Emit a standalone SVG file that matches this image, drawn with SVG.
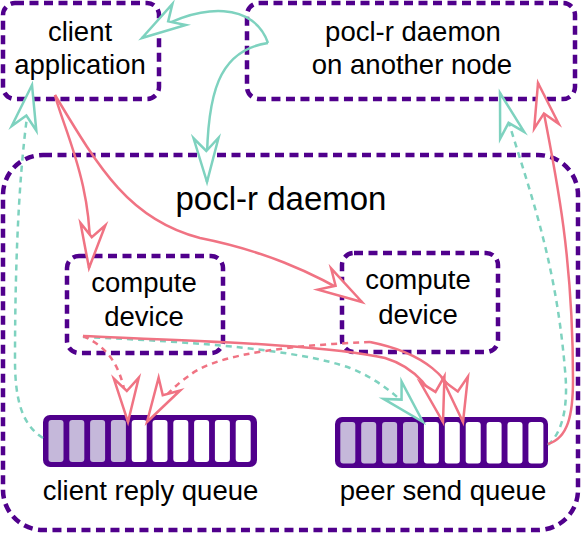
<svg xmlns="http://www.w3.org/2000/svg" width="582" height="533" viewBox="0 0 582 533">
<style>
.box{fill:none;stroke:#50008c;stroke-width:4.5;stroke-dasharray:9 5.5}
.lbl{font-family:"Liberation Sans",Arial,sans-serif;font-size:27.5px;fill:#000;text-anchor:middle}
.title{font-family:"Liberation Sans",Arial,sans-serif;font-size:33px;fill:#000;text-anchor:middle}
.qout{fill:#50008c}
.full{fill:#c5b8da}
.empty{fill:#fff}
.c{fill:none;stroke-width:2.5}
.teal{stroke:#7ed2bf}
.pink{stroke:#f07383}
.dash{stroke-dasharray:6 5}
</style>
<defs>
<marker id="ahT" markerUnits="userSpaceOnUse" viewBox="-50 -16 56 32" refX="0" refY="0" markerWidth="56" markerHeight="32" orient="auto" overflow="visible">
<path d="M0,0 L-44,-12.5 L-31,0 L-44,12.5 Z" fill="#fff" stroke="#7ed2bf" stroke-width="2.5" stroke-linejoin="miter" stroke-miterlimit="10"/>
</marker>
<marker id="ahP" markerUnits="userSpaceOnUse" viewBox="-50 -16 56 32" refX="0" refY="0" markerWidth="56" markerHeight="32" orient="auto" overflow="visible">
<path d="M0,0 L-44,-12.5 L-31,0 L-44,12.5 Z" fill="#fff" stroke="#f07383" stroke-width="2.5" stroke-linejoin="miter" stroke-miterlimit="10"/>
</marker>
</defs>
<rect width="582" height="533" fill="#fff"/>

<g id="daemon">
<rect class="box" x="3" y="155" width="575" height="375" rx="40"/>
<text class="title" x="281" y="210">pocl-r daemon</text>
</g>

<g id="client-application">
<rect class="box" x="3" y="3" width="156" height="96" rx="12"/>
<text class="lbl" x="80" y="41">client</text>
<text class="lbl" x="80" y="74">application</text>
</g>

<g id="other-node">
<rect class="box" x="247" y="3" width="328" height="96" rx="12"/>
<text class="lbl" x="413" y="41">pocl-r daemon</text>
<text class="lbl" x="412" y="74">on another node</text>
</g>

<g id="compute-device-1">
<rect class="box" x="67" y="256" width="156" height="97" rx="12"/>
<text class="lbl" x="144" y="292">compute</text>
<text class="lbl" x="144" y="326">device</text>
</g>

<g id="compute-device-2">
<rect class="box" x="342" y="253" width="156" height="99" rx="12"/>
<text class="lbl" x="418" y="289">compute</text>
<text class="lbl" x="418" y="324">device</text>
</g>

<g id="client-reply-queue">
<rect class="qout" x="43" y="415" width="214" height="52" rx="7"/>
<rect class="full" x="48.5" y="420" width="15" height="42" rx="3"/>
<rect class="full" x="69.3" y="420" width="15" height="42" rx="3"/>
<rect class="full" x="90.1" y="420" width="15" height="42" rx="3"/>
<rect class="full" x="110.9" y="420" width="15" height="42" rx="3"/>
<rect class="empty" x="131.7" y="420" width="15" height="42" rx="3"/>
<rect class="empty" x="152.5" y="420" width="15" height="42" rx="3"/>
<rect class="empty" x="173.3" y="420" width="15" height="42" rx="3"/>
<rect class="empty" x="194.1" y="420" width="15" height="42" rx="3"/>
<rect class="empty" x="214.9" y="420" width="15" height="42" rx="3"/>
<rect class="empty" x="235.7" y="420" width="15" height="42" rx="3"/>
<text class="lbl" x="150.5" y="500">client reply queue</text>
</g>

<g id="peer-send-queue">
<rect class="qout" x="335" y="417" width="213" height="51" rx="7"/>
<rect class="full" x="340.3" y="422" width="15" height="41.5" rx="3"/>
<rect class="full" x="361.2" y="422" width="15" height="41.5" rx="3"/>
<rect class="full" x="382.1" y="422" width="15" height="41.5" rx="3"/>
<rect class="full" x="403" y="422" width="15" height="41.5" rx="3"/>
<rect class="empty" x="423.9" y="422" width="15" height="41.5" rx="3"/>
<rect class="empty" x="444.8" y="422" width="15" height="41.5" rx="3"/>
<rect class="empty" x="465.7" y="422" width="15" height="41.5" rx="3"/>
<rect class="empty" x="486.6" y="422" width="15" height="41.5" rx="3"/>
<rect class="empty" x="507.5" y="422" width="15" height="41.5" rx="3"/>
<rect class="empty" x="528.4" y="422" width="15" height="41.5" rx="3"/>
<text class="lbl" x="443" y="500">peer send queue</text>
</g>

<g id="connectors">
<path class="c teal" d="M268,43 C255,5 205,-2 142,38" marker-end="url(#ahT)"/>
<path class="c teal" d="M268,43 C220,50 205,90 207,182" marker-end="url(#ahT)"/>
<path class="c teal dash" d="M43,438 C22,425 15,400 15,360 C15,250 20,150 32,85" marker-end="url(#ahT)"/>
<path class="c teal dash" d="M548,445 C565,430 568,400 565,370 C555,250 525,180 500,93" marker-end="url(#ahT)"/>
<path class="c teal dash" d="M83,337 C200,342 300,350 350,368 C380,380 400,398 423,422" marker-end="url(#ahT)"/>
<path class="c pink" d="M548,444 C568,438 573,415 573,380 C573,250 555,170 538,83" marker-end="url(#ahP)"/>
<path class="c pink" d="M55,95 C62,125 96,190 89,268" marker-end="url(#ahP)"/>
<path class="c pink" d="M55,95 C100,170 130,220 200,238 C260,250 310,270 362,302" marker-end="url(#ahP)"/>
<path class="c pink" d="M83,336 C200,341 330,345 385,358 C415,367 435,390 443,422" marker-end="url(#ahP)"/>
<path class="c pink" d="M370,342 C420,352 455,375 463,422" marker-end="url(#ahP)"/>
<path class="c pink dash" d="M370,342 C300,345 220,352 190,375 C175,385 160,400 147,422" marker-end="url(#ahP)"/>
<path class="c pink dash" d="M83,336 C110,348 126,370 128,422" marker-end="url(#ahP)"/>
</g>
</svg>
